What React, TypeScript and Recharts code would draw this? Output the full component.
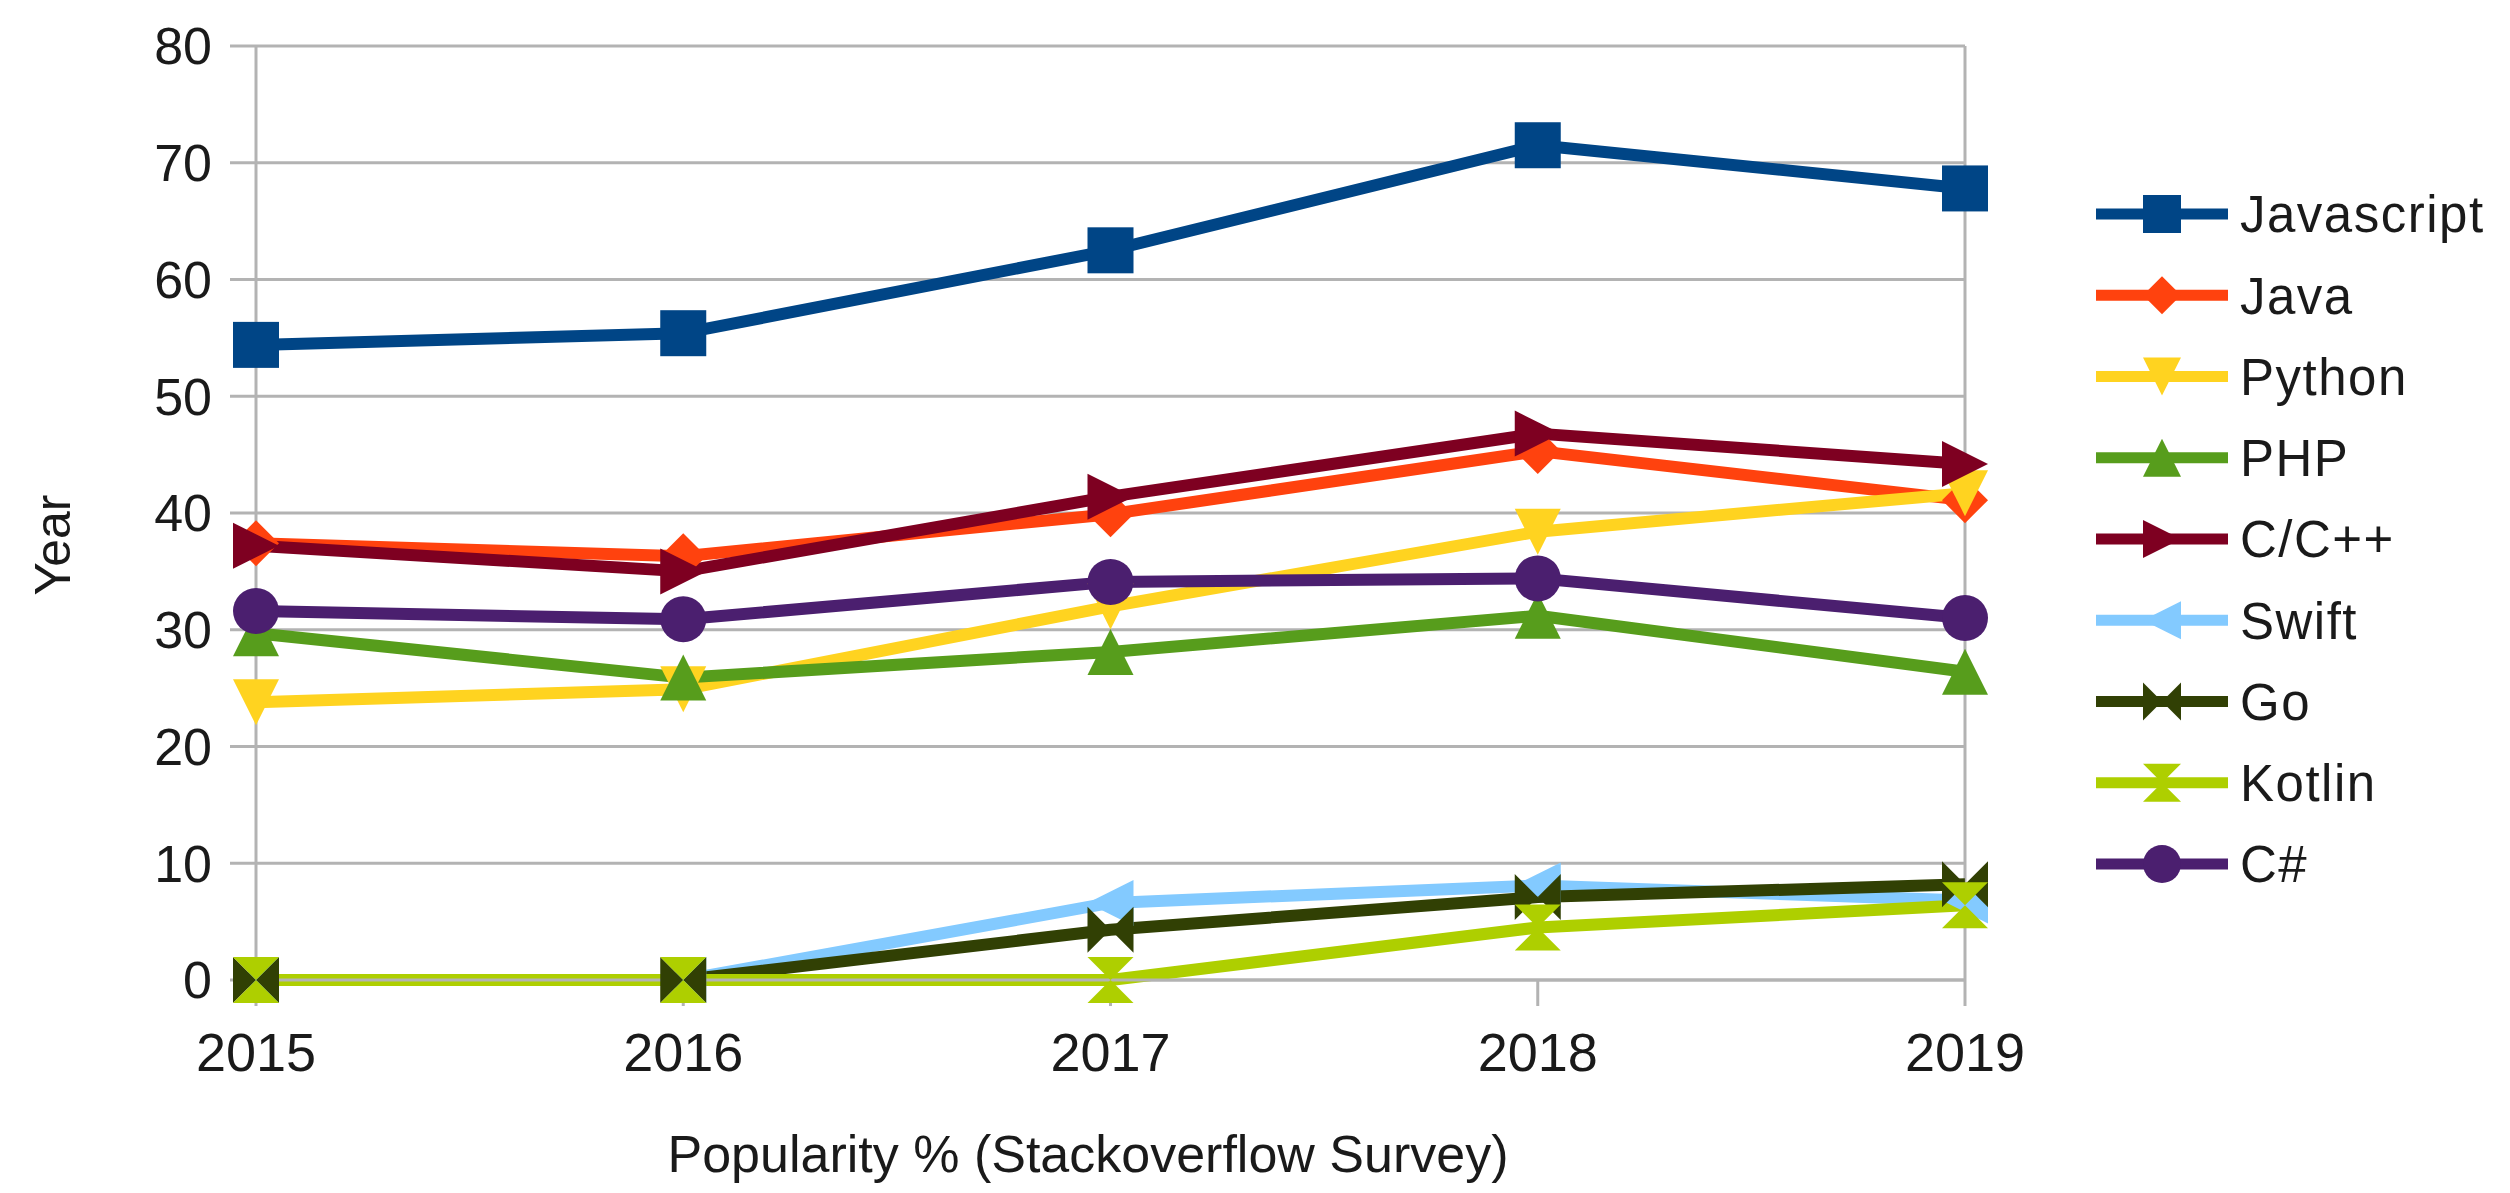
import { LineChart, Line, XAxis, YAxis, CartesianGrid, ReferenceLine, Legend } from "recharts";

const YEARS = [2015, 2016, 2017, 2018, 2019];
const Y_TICKS = [0, 10, 20, 30, 40, 50, 60, 70, 80];

const JAVASCRIPT = [54.4, 55.4, 62.5, 71.5, 67.8];
const JAVA = [37.4, 36.3, 39.9, 45.3, 41.1];
const PYTHON = [23.8, 24.9, 32.0, 38.4, 41.7];
const PHP = [29.7, 25.9, 28.1, 31.2, 26.4];
const CPP = [37.2, 35.0, 41.4, 46.8, 44.2];
const SWIFT = [0, 0, 6.6, 8.1, 6.8];
const GO = [0, 0, 4.3, 7.1, 8.2];
const KOTLIN = [0, 0, 0, 4.5, 6.4];
const CSHARP = [31.6, 30.9, 34.1, 34.4, 31.0];

const FONT = '"Liberation Sans", Arial, sans-serif';
const GRID = "#b3b3b3";
const TEXT = "#1a1a1a";

type Shape = "square" | "diamond" | "down" | "up" | "right" | "left" | "bowtie" | "sandglass" | "circle";

const SERIES: { key: string; name: string; color: string; shape: Shape; values: number[] }[] = [
  { key: "javascript", name: "Javascript", color: "#004586", shape: "square", values: JAVASCRIPT },
  { key: "java", name: "Java", color: "#ff420e", shape: "diamond", values: JAVA },
  { key: "python", name: "Python", color: "#ffd320", shape: "down", values: PYTHON },
  { key: "php", name: "PHP", color: "#579d1c", shape: "up", values: PHP },
  { key: "cpp", name: "C/C++", color: "#7e0021", shape: "right", values: CPP },
  { key: "swift", name: "Swift", color: "#83caff", shape: "left", values: SWIFT },
  { key: "go", name: "Go", color: "#314004", shape: "bowtie", values: GO },
  { key: "kotlin", name: "Kotlin", color: "#aecf00", shape: "sandglass", values: KOTLIN },
  { key: "csharp", name: "C#", color: "#4b1f6f", shape: "circle", values: CSHARP },
];

const rows = YEARS.map((year, i) => {
  const row: Record<string, number> = { year };
  for (const s of SERIES) row[s.key] = s.values[i];
  return row;
});

function Marker({ shape, cx, cy, size, color }: { shape: Shape; cx: number; cy: number; size: number; color: string }) {
  const h = size / 2;
  const pts = (p: number[][]) => p.map(([x, y]) => `${cx + x},${cy + y}`).join(" ");
  switch (shape) {
    case "square":
      return <rect x={cx - h} y={cy - h} width={size} height={size} fill={color} />;
    case "circle":
      return <circle cx={cx} cy={cy} r={h} fill={color} />;
    case "diamond":
      return <polygon points={pts([[0, -h], [h, 0], [0, h], [-h, 0]])} fill={color} />;
    case "down":
      return <polygon points={pts([[-h, -h], [h, -h], [0, h]])} fill={color} />;
    case "up":
      return <polygon points={pts([[0, -h], [h, h], [-h, h]])} fill={color} />;
    case "right":
      return <polygon points={pts([[-h, -h], [h, 0], [-h, h]])} fill={color} />;
    case "left":
      return <polygon points={pts([[h, -h], [-h, 0], [h, h]])} fill={color} />;
    case "bowtie":
      return <polygon points={pts([[-h, -h], [h, h], [h, -h], [-h, h]])} fill={color} />;
    case "sandglass":
      return <polygon points={pts([[-h, -h], [h, -h], [-h, h], [h, h]])} fill={color} />;
  }
  return null;
}

const dotFor = (shape: Shape, color: string) => (props: any) => {
  const { cx, cy, index } = props;
  if (cx == null || cy == null) return <g key={`d-${index}`} />;
  return (
    <g key={`d-${index}`}>
      <Marker shape={shape} cx={cx} cy={cy} size={46} color={color} />
    </g>
  );
};

function LegendBox() {
  return (
    <svg width={450} height={780} style={{ display: "block", overflow: "visible" }}>
      {SERIES.map((s, i) => {
        const y = 44 + i * 81.25;
        return (
          <g key={s.key}>
            <line x1={36} x2={168} y1={y} y2={y} stroke={s.color} strokeWidth={11} />
            <Marker shape={s.shape} cx={102} cy={y} size={38} color={s.color} />
            <text x={180} y={y} dy="0.36em" fontSize={51} fontFamily={FONT} fill={TEXT} letterSpacing={1.5}>
              {s.name}
            </text>
          </g>
        );
      })}
    </svg>
  );
}

const XTitle = () => (
  <text x={1088} y={1172} textAnchor="middle" fontSize={52} fontFamily={FONT} fill={TEXT}>
    Popularity % (Stackoverflow Survey)
  </text>
);

const YTitle = () => (
  <text
    x={70}
    y={545}
    transform="rotate(-90 70 545)"
    textAnchor="middle"
    fontSize={50}
    fontFamily={FONT}
    fill={TEXT}
  >
    Year
  </text>
);

export default function App() {
  return (
    <div style={{ position: "absolute", left: 0, top: 0, background: "#fff" }}>
      <LineChart width={2510} height={1193} data={rows} margin={{ top: 46, right: 95, bottom: 0, left: 0 }}>
        <CartesianGrid vertical={false} stroke={GRID} strokeWidth={3} />
        <XAxis
          dataKey="year"
          type="number"
          domain={[2015, 2019]}
          ticks={YEARS}
          height={213}
          tickSize={26}
          tickMargin={27}
          axisLine={{ stroke: GRID, strokeWidth: 3 }}
          tickLine={{ stroke: GRID, strokeWidth: 3 }}
          tick={{ fill: TEXT, fontSize: 54, fontFamily: FONT }}
          label={XTitle}
        />
        <YAxis
          type="number"
          domain={[0, 80]}
          ticks={Y_TICKS}
          width={256}
          tickSize={26}
          tickMargin={18}
          axisLine={{ stroke: GRID, strokeWidth: 3 }}
          tickLine={{ stroke: GRID, strokeWidth: 3 }}
          tick={{ fill: TEXT, fontSize: 52, fontFamily: FONT }}
          label={YTitle}
        />
        <ReferenceLine x={2019} stroke={GRID} strokeWidth={3} />
        <Legend
          layout="vertical"
          align="right"
          verticalAlign="top"
          content={LegendBox}
          wrapperStyle={{ position: "absolute", left: 2060, top: 170, width: 450, height: 780 }}
        />
        {SERIES.map((s) => (
          <Line
            key={s.key}
            type="linear"
            dataKey={s.key}
            name={s.name}
            stroke={s.color}
            strokeWidth={12}
            strokeLinejoin="round"
            dot={dotFor(s.shape, s.color)}
            activeDot={false}
            isAnimationActive={false}
          />
        ))}
      </LineChart>
    </div>
  );
}
